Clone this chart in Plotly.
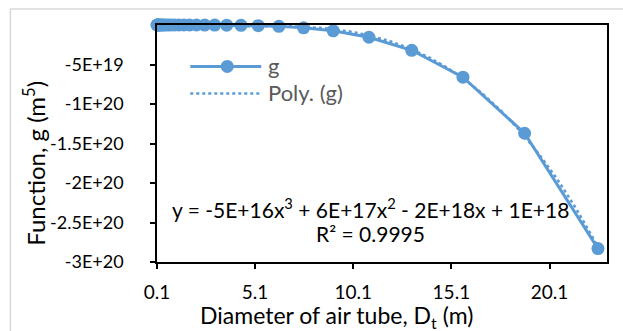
import numpy as np
import plotly.graph_objects as go

# Data
diameter = [0.10, 0.11, 0.14, 0.16, 0.20, 0.24, 0.28, 0.34, 0.41, 0.49, 0.59, 0.71,
            0.85, 1.02, 1.22, 1.47, 1.76, 2.11, 2.53, 3.04, 3.65, 4.38, 5.26, 6.31,
            7.57, 9.08, 10.90, 13.08, 15.69, 18.83, 22.57]
g_values = [-1.1e11, -1.6e11, -4e11, -7e11, -1.7e12, -3.6e12, -6.7e12, -1.3e13, -3e13,
            -6e13, -1.3e14, -2.8e14, -5.7e14, -1.2e15, -2.4e15, -5e15, -1.0e16, -2.2e16,
            -4.5e16, -9.3e16, -1.9e17, -4.0e17, -8.3e17, -1.73e18, -3.6e18, -7.4e18,
            -1.55e19, -3.2e19, -6.6e19, -1.37e20, -2.83e20]
y_ticks = [-5e19, -1e20, -1.5e20, -2e20, -2.5e20, -3e20]
y_tick_labels = ["-5E+19", "-1E+20", "-1.5E+20", "-2E+20", "-2.5E+20", "-3E+20"]
x_ticks = [0.1, 5.1, 10.1, 15.1, 20.1]
x_tick_labels = ["0.1", "5.1", "10.1", "15.1", "20.1"]
series_names = ["g", "Poly. (g)"]

BLUE = "#5B9BD5"
FONT = "Lato"

# cubic trendline (Poly. (g)) fitted from the data
coef = np.polyfit(diameter, g_values, 3)
xs = np.linspace(min(diameter), max(diameter), 300)
ys = np.polyval(coef, xs)

fig = go.Figure()
fig.add_trace(go.Scatter(x=diameter, y=g_values, mode="lines+markers", name=series_names[0],
                         line=dict(color=BLUE, width=3),
                         marker=dict(color=BLUE, size=13), cliponaxis=False,
                         showlegend=False))
fig.add_trace(go.Scatter(x=xs, y=ys, mode="lines", name=series_names[1],
                         line=dict(color=BLUE, width=2.5, dash="dot"),
                         showlegend=False))

L, R, T, B = 156.7, 607.0, 24.5, 261.7
W, H = 623, 331

def px(xp):
    return (xp - L) / (R - L)

def py(yp):
    return (B - yp) / (B - T)

shapes = [
    dict(type="rect", xref="paper", yref="paper",
         x0=px(10), y0=py(400), x1=px(700), y1=py(8.5),
         line=dict(color="#D9D9D9", width=1.5), fillcolor="rgba(0,0,0,0)", layer="below"),
    # legend samples
    dict(type="line", xref="paper", yref="paper", x0=px(190), x1=px(261),
         y0=py(66), y1=py(66), line=dict(color=BLUE, width=3)),
    dict(type="circle", xref="paper", yref="paper", x0=px(220.5), x1=px(233.5),
         y0=py(59.5), y1=py(72.5), line=dict(color=BLUE, width=0), fillcolor=BLUE),
    dict(type="line", xref="paper", yref="paper", x0=px(190), x1=px(261),
         y0=py(93), y1=py(93), line=dict(color=BLUE, width=2.5, dash="dot")),
]

annotations = [
    dict(text="Diameter of air tube, D<sub>t</sub> (m)", xref="paper", yref="paper",
         x=px(336), y=py(316.3), xanchor="center", yanchor="middle",
         showarrow=False, font=dict(size=23)),
    dict(text="Function, g (m<sup>5</sup>)", xref="paper", yref="paper",
         x=px(34), y=py(163), xanchor="center", yanchor="middle", textangle=-90,
         showarrow=False, font=dict(size=24)),
    dict(text="y = -5E+16x<sup>3</sup> + 6E+17x<sup>2</sup> - 2E+18x + 1E+18",
         xref="paper", yref="paper", x=px(370), y=py(208),
         xanchor="center", yanchor="middle", showarrow=False, font=dict(size=21)),
    dict(text="R² = 0.9995", xref="paper", yref="paper", x=px(370), y=py(233),
         xanchor="center", yanchor="middle", showarrow=False, font=dict(size=21)),
    dict(text=series_names[0], xref="paper", yref="paper", x=px(266), y=py(65),
         xanchor="left", yanchor="middle", showarrow=False,
         font=dict(size=22, color="#595959")),
    dict(text=series_names[1], xref="paper", yref="paper", x=px(266), y=py(92),
         xanchor="left", yanchor="middle", showarrow=False,
         font=dict(size=22, color="#595959")),
]

fig.update_layout(
    width=W, height=H,
    margin=dict(l=L, r=W - R, t=T, b=H - B, pad=0),
    paper_bgcolor="white", plot_bgcolor="white",
    font=dict(family=FONT, size=18, color="black"),
    showlegend=False,
    xaxis=dict(range=[0.1, 23.03], tickvals=x_ticks, ticktext=x_tick_labels,
               showgrid=False, zeroline=False, showline=True, linecolor="black",
               linewidth=1.5, mirror=True, ticks="outside", ticklen=5,
               tickcolor="black", tickwidth=1.5, tickfont=dict(size=19),
               ticklabelstandoff=7),
    yaxis=dict(range=[-3e20, 0], tickvals=y_ticks, ticktext=y_tick_labels,
               showgrid=False, zeroline=False, showline=True, linecolor="black",
               linewidth=1.5, mirror=True, ticks="outside", ticklen=5,
               tickcolor="black", tickwidth=1.5, tickfont=dict(size=18),
               ticklabelstandoff=23),
    shapes=shapes,
    annotations=annotations,
)

fig.write_html("out.html")
